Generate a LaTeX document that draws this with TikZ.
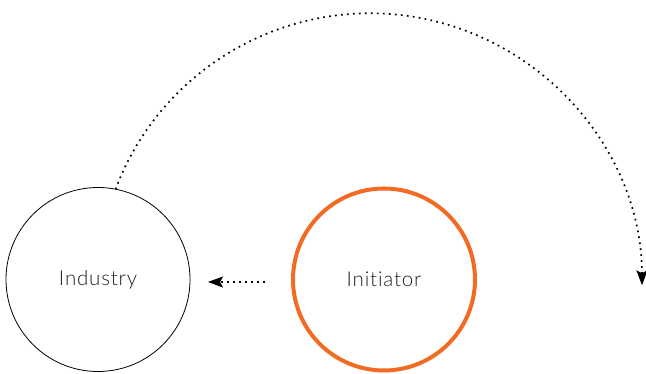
\documentclass[tikz,border=0pt]{standalone}
\usepackage{fontspec}
\setmainfont{Lato Light}[Ligatures={NoCommon,NoRequired,NoContextual}]
\usepackage{tikz}
\usetikzlibrary{arrows.meta}
\definecolor{initorange}{RGB}{242,107,36}
\definecolor{labelgrey}{RGB}{30,30,30}

\begin{document}
\begin{tikzpicture}[
        x=1pt, y=1pt,
        >={Stealth[length=15pt,width=11pt,inset=3pt]},
        actor/.style={circle, draw=black, line width=0.8pt, minimum size=184pt, inner sep=0pt, outer sep=0pt,
            text=labelgrey, font=\fontsize{20.5}{24}\selectfont\addfontfeatures{LetterSpace=4}},
        initiatorbox/.style={actor, draw=initorange, line width=4pt, minimum size=182pt},
        flow/.style={->, line width=1.7pt, dash pattern=on 1.7pt off 4.3pt}
    ]
        \useasboundingbox (0,0) rectangle (646,374);
        \node[actor] (industry) at (98,94.5) {Industry};
        \node[initiatorbox] (initiator) at (384,94.5) {\raisebox{-2pt}{Initiator}};
        \draw[flow, shorten <=28pt, shorten >=18pt] ([yshift=-2.5pt]initiator.west) -- ([yshift=-2.5pt]industry.east);
        \draw[flow] (industry.79) arc[start angle=159.3, end angle=0, radius=272];
    \end{tikzpicture}
\end{document}
